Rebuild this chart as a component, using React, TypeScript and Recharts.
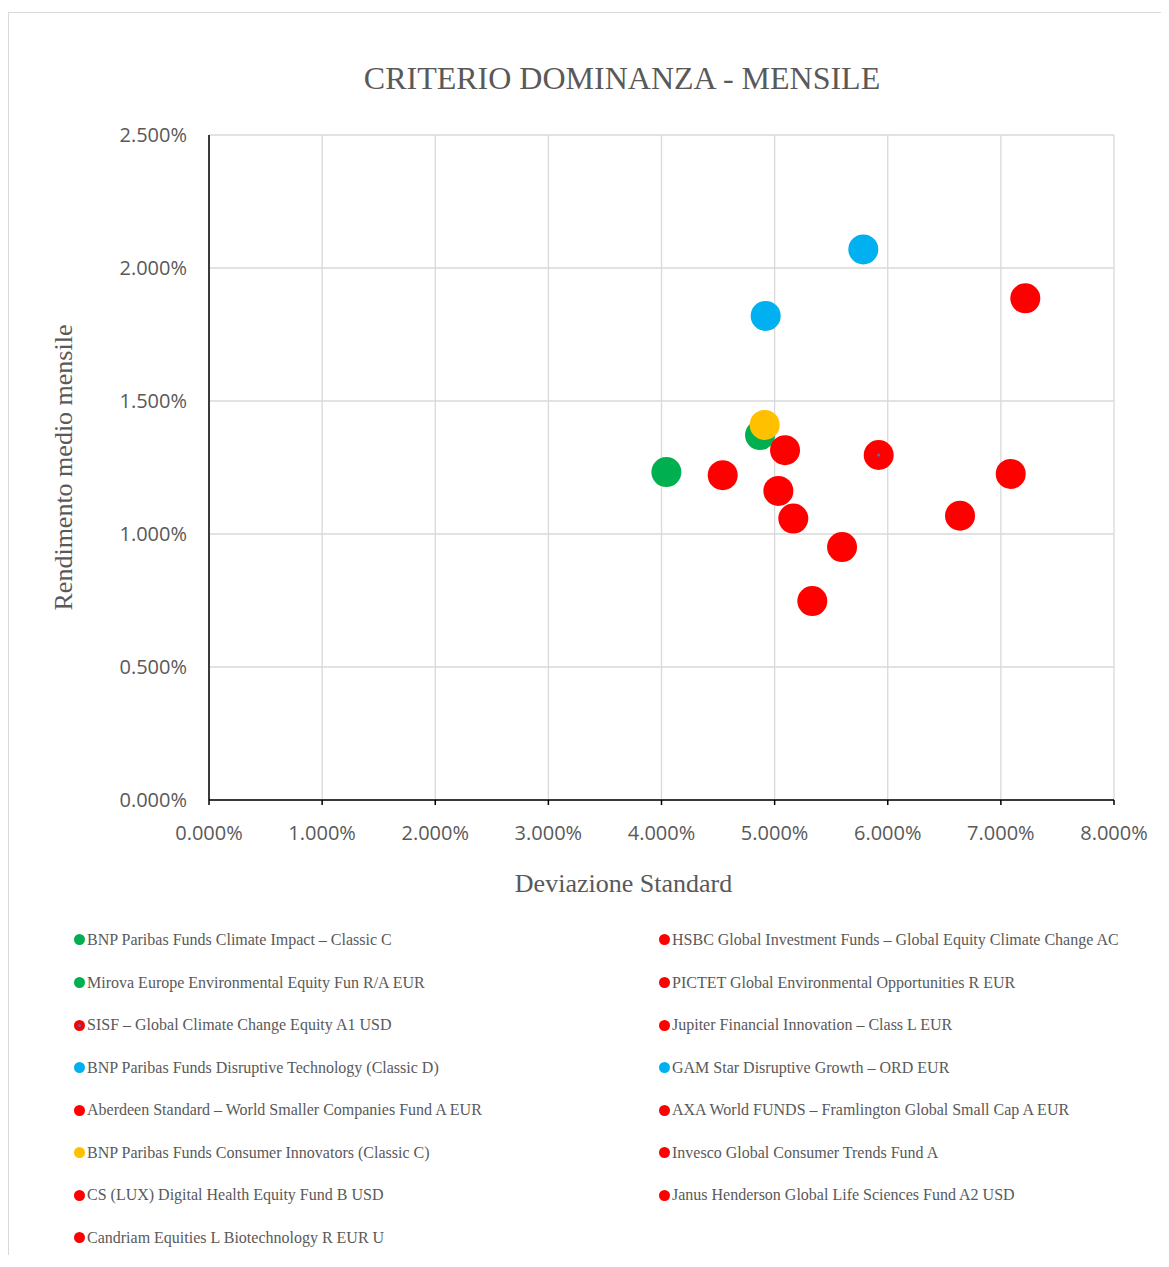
import { ScatterChart, Scatter, XAxis, YAxis, CartesianGrid, Legend } from 'recharts';

const fundNames = [
  'BNP Paribas Funds Climate Impact – Classic C',
  'HSBC Global Investment Funds – Global Equity Climate Change AC',
  'Mirova Europe Environmental Equity Fun R/A EUR',
  'PICTET Global Environmental Opportunities R EUR',
  'SISF – Global Climate Change Equity A1 USD',
  'Jupiter Financial Innovation – Class L EUR',
  'BNP Paribas Funds Disruptive Technology (Classic D)',
  'GAM Star Disruptive Growth – ORD EUR',
  'Aberdeen Standard – World Smaller Companies Fund A EUR',
  'AXA World FUNDS – Framlington Global Small Cap A EUR',
  'BNP Paribas Funds Consumer Innovators (Classic C)',
  'Invesco Global Consumer Trends Fund A',
  'CS (LUX) Digital Health Equity Fund B USD',
  'Janus Henderson Global Life Sciences Fund A2 USD',
  'Candriam Equities L Biotechnology R EUR U',
];
// deviazione standard (%)
const stdDev = [4.043, 4.541, 4.871, 5.033, 5.92, 7.087, 4.921, 5.784, 5.092, 5.165, 4.912, 7.216, 6.639, 5.596, 5.333];
// rendimento medio mensile (%)
const avgReturn = [1.233, 1.221, 1.372, 1.162, 1.297, 1.226, 1.82, 2.07, 1.315, 1.058, 1.41, 1.886, 1.069, 0.951, 0.748];
const fundColors = [
  '#00b050', '#ff0000', '#00b050', '#ff0000', '#ff0000', '#ff0000', '#00b0f0', '#00b0f0',
  '#ff0000', '#ff0000', '#ffc000', '#ff0000', '#ff0000', '#ff0000', '#ff0000',
];
const innerDot = [false, false, false, false, true, false, false, false, false, false, false, false, false, false, false];

const xTicks = [0, 1, 2, 3, 4, 5, 6, 7, 8];
const yTicks = [0, 0.5, 1, 1.5, 2, 2.5];

const GREY = '#595959';
const SERIF = '"Liberation Serif", "Times New Roman", serif';
const SANS = '"Open Sans", sans-serif';

const pct = (v: number) => `${v.toFixed(3)}%`;

function makeShape(color: string, inner: boolean) {
  return (p: any) => (
    <g>
      <circle cx={p.cx} cy={p.cy} r={15} fill={color} />
      {inner ? <circle cx={p.cx} cy={p.cy} r={1.5} fill="#4472c4" /> : null}
    </g>
  );
}

function LegendBox() {
  return (
    <div style={{ display: 'grid', gridTemplateColumns: '585px auto', fontFamily: SERIF, fontSize: 16, color: GREY }}>
      {fundNames.map((n, i) => (
        <div key={n} style={{ height: 42.57, display: 'flex', alignItems: 'center', whiteSpace: 'nowrap' }}>
          <span style={{ width: 11, height: 11, borderRadius: '50%', background: fundColors[i], display: 'inline-block', position: 'relative', marginRight: 2.5 }}>
            {innerDot[i] ? (
              <span style={{ position: 'absolute', left: 4, top: 4, width: 3, height: 3, borderRadius: '50%', background: '#4472c4' }} />
            ) : null}
          </span>
          {n}
        </div>
      ))}
    </div>
  );
}

export default function App() {
  const W = 1152;
  const H = 1246;
  return (
    <div style={{ position: 'relative', top: 4, width: W, height: H, borderTop: '1px solid #d9d9d9', borderLeft: '1px solid #d9d9d9', background: '#fff' }}>
      <div style={{ position: 'absolute', left: 0, width: 1226, top: 49, textAlign: 'center', fontFamily: SERIF, fontSize: 32, lineHeight: '32px', color: GREY, zIndex: 2, whiteSpace: 'nowrap' }}>
        CRITERIO DOMINANZA - MENSILE
      </div>
      <ScatterChart width={W} height={H} margin={{ top: 122, right: 47, bottom: 359, left: 50 }}>
        <CartesianGrid stroke="#d9d9d9" strokeWidth={1.3} horizontalValues={yTicks} verticalValues={xTicks} />
        <XAxis
          type="number"
          dataKey="x"
          domain={[0, 8]}
          ticks={xTicks}
          interval={0}
          height={100}
          tickFormatter={pct}
          axisLine={{ stroke: '#000', strokeWidth: 1.5 }}
          tickLine={{ stroke: '#000', strokeWidth: 1.5 }}
          tickSize={5}
          tickMargin={21}
          tick={{ fill: GREY, fontFamily: SANS, fontSize: 20 }}
          label={{
            content: () => (
              <text x={614.5} y={878.6} textAnchor="middle" fill={GREY} style={{ fontFamily: SERIF, fontSize: 26 }}>
                Deviazione Standard
              </text>
            ),
          }}
        />
        <YAxis
          type="number"
          dataKey="y"
          domain={[0, 2.5]}
          ticks={yTicks}
          interval={0}
          width={150}
          tickFormatter={pct}
          axisLine={{ stroke: '#000', strokeWidth: 1.5 }}
          tickLine={false}
          tickSize={0}
          tickMargin={22}
          tick={{ fill: GREY, fontFamily: SANS, fontSize: 20 }}
          label={{
            content: () => (
              <text x={63} y={454.5} textAnchor="middle" transform="rotate(-90, 63, 454.5)" fill={GREY} style={{ fontFamily: SERIF, fontSize: 26 }}>
                Rendimento medio mensile
              </text>
            ),
          }}
        />
        {fundNames.map((n, i) => (
          <Scatter
            key={n}
            name={n}
            data={[{ x: stdDev[i], y: avgReturn[i] }]}
            fill={fundColors[i]}
            shape={makeShape(fundColors[i], innerDot[i])}
            isAnimationActive={false}
          />
        ))}
        <Legend
          layout="horizontal"
          verticalAlign="middle"
          align="center"
          wrapperStyle={{ top: 905.7, left: 64.5, width: 1080, height: 341 }}
          content={() => <LegendBox />}
        />
      </ScatterChart>
    </div>
  );
}
